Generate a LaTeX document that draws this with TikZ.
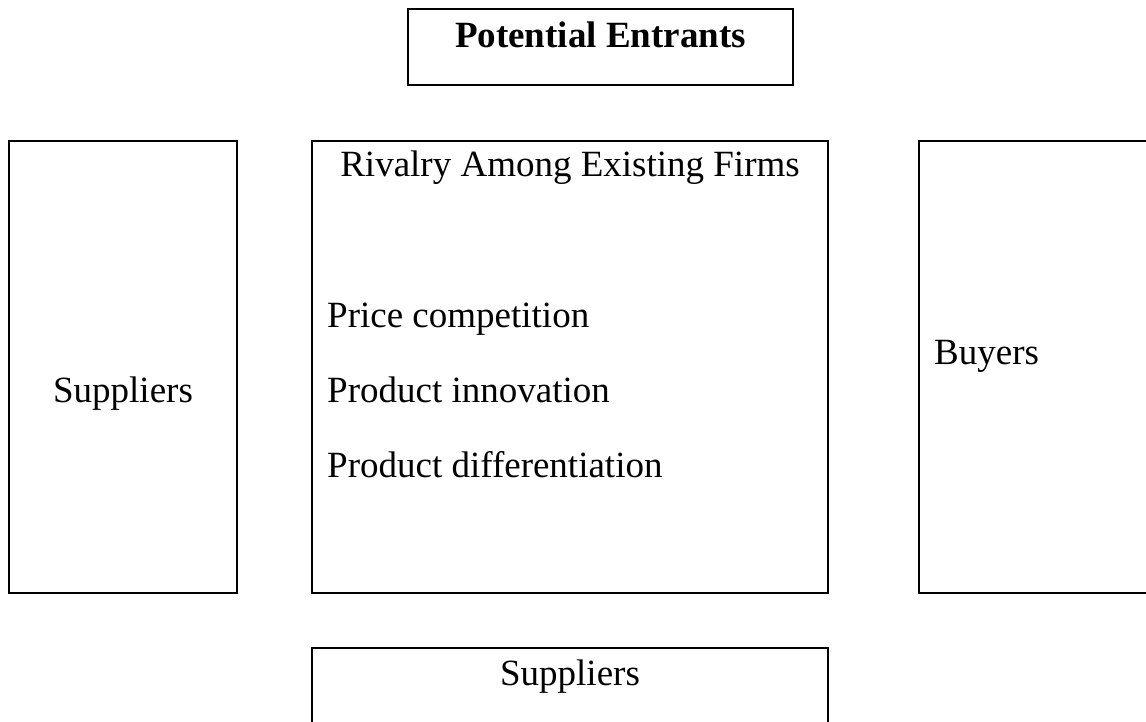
\documentclass[tikz,border=0pt]{standalone}
\usepackage{fontspec}
\setmainfont{Liberation Serif}
\begin{document}
\begin{tikzpicture}[x=1pt,y=-1pt,
  panel/.style={draw=black, line width=1.7pt, rectangle, inner sep=0pt, outer sep=0pt},
  label/.style={inner sep=0pt, font=\fontsize{37}{44}\selectfont}]
  \useasboundingbox (0,0) rectangle (1146,722);
  \clip (0,0) rectangle (1146,722);
  % panels
  \node[panel, minimum width=385pt, minimum height=76pt]  (entr) at (600.5,47)  {};
  \node[panel, minimum width=228pt, minimum height=452pt] (supl) at (123,367)   {};
  \node[panel, minimum width=516pt, minimum height=452pt] (riv)  at (570,367)   {};
  \node[panel, minimum width=241pt, minimum height=452pt] (buy)  at (1039.5,367){};
  \node[panel, minimum width=516pt, minimum height=112pt] (supb) at (570,704)   {};
  % labels
  \node[label, anchor=base, font=\fontsize{37}{44}\selectfont\bfseries] (tentr) at (600.5,48) {Potential Entrants};
  \node[label, anchor=base] (triv) at (570,177) {Rivalry Among Existing Firms};
  \node[label, anchor=base west] (tp1) at (327,327) {Price competition};
  \node[label, anchor=base west] (tp2) at (327,402) {Product innovation};
  \node[label, anchor=base west] (tp3) at (327,477) {Product differentiation};
  \node[label, anchor=base] (tsupl) at (123,402) {Suppliers};
  \node[label, anchor=base west] (tbuy) at (934,364) {Buyers};
  \node[label, anchor=base] (tsupb) at (570,685) {Suppliers};
\end{tikzpicture}
\end{document}
